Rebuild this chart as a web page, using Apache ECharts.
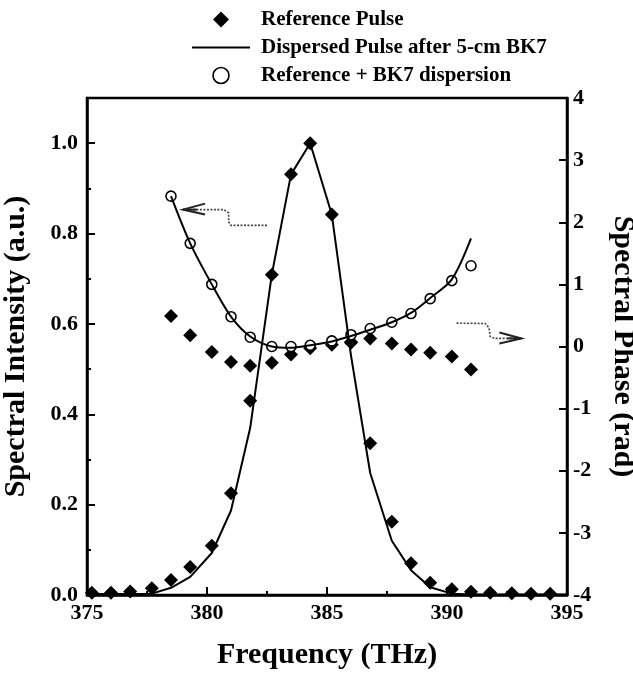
<!DOCTYPE html>
<html>
<head>
<meta charset="utf-8">
<script src="https://cdn.jsdelivr.net/npm/echarts@6/dist/echarts.min.js"></script>
<style>
  html, body { margin: 0; padding: 0; background: #fff; }
  #chart { width: 633px; height: 677px; }
</style>
</head>
<body>
<div id="chart"></div>
<script>
// frequency grid of the measured points (THz)
const freq = [375.2, 376.0, 376.8, 377.7, 378.5, 379.3, 380.2, 381.0, 381.8, 382.7, 383.5, 384.3,
  385.2, 386.0, 386.8, 387.7, 388.5, 389.3, 390.2, 391.0, 391.8, 392.7, 393.5, 394.3];
const refIntensity = [0.005, 0.005, 0.008, 0.015, 0.033, 0.062, 0.109, 0.225, 0.43, 0.709, 0.931, 1.0,
  0.842, 0.56, 0.336, 0.162, 0.07, 0.027, 0.013, 0.007, 0.005, 0.004, 0.003, 0.003];

// phase points only cover the central part of the spectrum
const phaseFreq = [378.5, 379.3, 380.2, 381.0, 381.8, 382.7, 383.5, 384.3, 385.2, 386.0, 386.8, 387.7,
  388.5, 389.3, 390.2, 391.0];
const refPhase = [0.49, 0.18, -0.09, -0.25, -0.31, -0.26, -0.13, -0.03, 0.03, 0.06, 0.13, 0.05,
  -0.05, -0.10, -0.16, -0.37];
const bk7Phase = [2.42, 1.66, 1.0, 0.48, 0.15, 0.0, 0.0, 0.02, 0.09, 0.19, 0.29, 0.39,
  0.53, 0.77, 1.06, 1.30];
const dispPhase = [2.42, 1.66, 1.0, 0.48, 0.16, 0.0, -0.02, 0.02, 0.08, 0.17, 0.27, 0.39,
  0.54, 0.78, 1.08, 1.74];

// dispersed pulse intensity (solid line)
const dispFreq = [375.0, 376.0, 377.0, 377.7, 378.5, 379.3, 380.2, 381.0, 381.8, 382.7, 383.5, 384.3,
  385.2, 386.0, 386.8, 387.7, 388.5, 389.3, 390.2, 391.0, 393.0, 395.0];
const dispIntensity = [0.002, 0.002, 0.002, 0.003, 0.016, 0.04, 0.093, 0.187, 0.37, 0.709, 0.931, 1.0,
  0.842, 0.53, 0.27, 0.12, 0.055, 0.017, 0.003, 0.001, 0.001, 0.001];

// dotted arrows: [freq, value] pairs, last point is the tip
const leftArrow = [[382.5, 0.818], [381.0, 0.818], [380.9, 0.826], [380.9, 0.846], [380.7, 0.853], [379.0, 0.853]];
const rightArrow = [[390.4, 0.376], [391.6, 0.37], [391.75, 0.3], [391.8, 0.16], [392.0, 0.13], [393.1, 0.13]];

const names = ['Reference Pulse', 'Dispersed Pulse after 5-cm BK7', 'Reference + BK7 dispersion'];
const font = "'Liberation Serif', 'Times New Roman', serif";

const zip = (xs, ys) => xs.map((x, i) => [x, ys[i]]);

const chart = echarts.init(document.getElementById('chart'));

const axisBase = {
  axisLine: { lineStyle: { color: '#000', width: 2.5 } },
  axisTick: { inside: true, length: 8, lineStyle: { color: '#000', width: 2 } },
  minorTick: { show: true, splitNumber: 2, length: 4, lineStyle: { color: '#000', width: 2 } },
  splitLine: { show: false },
  axisLabel: { color: '#000', fontFamily: font, fontWeight: 'bold', fontSize: 22 },
  nameTextStyle: { color: '#000', fontFamily: font, fontWeight: 'bold', fontSize: 30 }
};

const option = {
  animation: false,
  backgroundColor: '#fff',
  grid: {
    left: 87, right: 66, top: 98, bottom: 82,
    outerBoundsMode: 'none',
    show: true, borderColor: '#000', borderWidth: 2.5
  },
  legend: {
    orient: 'vertical',
    left: 187,
    top: 4,
    itemWidth: 58,
    itemHeight: 16,
    itemGap: 7,
    symbolKeepAspect: true,
    data: [
      { name: names[0], icon: 'path://M8,0L16,8L8,16L0,8Z', itemStyle: { color: '#000', opacity: 1 } },
      { name: names[1], icon: 'path://M0,0L58,0L58,2.2L0,2.2Z', itemStyle: { color: '#000' } },
      { name: names[2], icon: 'circle', itemStyle: { color: '#fff', borderColor: '#000', borderWidth: 1.6 } }
    ],
    textStyle: { color: '#000', fontFamily: font, fontWeight: 'bold', fontSize: 21, padding: [0, 0, 0, 6] }
  },
  xAxis: {
    ...axisBase,
    type: 'value',
    min: 375,
    max: 395,
    interval: 5,
    axisLabel: { ...axisBase.axisLabel, margin: 7 },
    name: 'Frequency (THz)',
    nameLocation: 'middle',
    nameGap: 45
  },
  yAxis: [
    {
      ...axisBase,
      type: 'value',
      position: 'left',
      min: 0,
      max: 1.1,
      interval: 0.2,
      axisLabel: { ...axisBase.axisLabel, margin: 9, showMaxLabel: false, formatter: v => v.toFixed(1) },
      name: 'Spectral Intensity (a.u.)',
      nameLocation: 'middle',
      nameRotate: 90,
      nameGap: 56
    },
    {
      ...axisBase,
      type: 'value',
      position: 'right',
      min: -4,
      max: 4,
      interval: 1,
      minorTick: { show: false },
      axisLabel: { ...axisBase.axisLabel, margin: 6 },
      name: 'Spectral Phase (rad)',
      nameLocation: 'middle',
      nameRotate: -90,
      nameGap: 41
    }
  ],
  series: [
    {
      name: names[0], type: 'scatter', yAxisIndex: 0, symbol: 'diamond', symbolSize: 14,
      itemStyle: { color: '#000', opacity: 1 }, data: zip(freq, refIntensity)
    },
    {
      name: names[0], type: 'scatter', yAxisIndex: 1, symbol: 'diamond', symbolSize: 14,
      itemStyle: { color: '#000', opacity: 1 }, data: zip(phaseFreq, refPhase)
    },
    {
      name: names[1], type: 'line', yAxisIndex: 0, symbol: 'none',
      lineStyle: { color: '#000', width: 2 }, itemStyle: { color: '#000' },
      data: zip(dispFreq, dispIntensity)
    },
    {
      name: names[1], type: 'line', yAxisIndex: 1, symbol: 'none', smooth: 0.3,
      lineStyle: { color: '#000', width: 2 }, itemStyle: { color: '#000' },
      data: zip(phaseFreq.slice(0, dispPhase.length), dispPhase)
    },
    {
      name: names[2], type: 'scatter', yAxisIndex: 1, symbol: 'circle', symbolSize: 10,
      itemStyle: { color: '#fff', borderColor: '#000', borderWidth: 1.6, opacity: 1 },
      data: zip(phaseFreq, bk7Phase)
    }
  ]
};

chart.setOption(option);

function arrowGraphic(points, yAxisIndex) {
  const px = points.map(p => chart.convertToPixel({ xAxisIndex: 0, yAxisIndex: yAxisIndex }, p));
  const tip = px[px.length - 1];
  const dir = Math.sign(tip[0] - px[px.length - 2][0]);
  return [
    {
      type: 'polyline',
      shape: { points: px.slice(0, -1).concat([[tip[0] - dir * 6, tip[1]]]) },
      style: { stroke: '#444', lineWidth: 1.6, lineDash: [2, 1.5], fill: null }
    },
    {
      type: 'polyline',
      shape: { points: [[tip[0] - dir * 22, tip[1] - 6], tip, [tip[0] - dir * 22, tip[1] + 5]] },
      style: { stroke: '#222', lineWidth: 2, fill: null }
    },
    {
      type: 'line',
      shape: { x1: tip[0] - dir * 14, y1: tip[1], x2: tip[0], y2: tip[1] },
      style: { stroke: '#222', lineWidth: 2 }
    }
  ];
}

chart.setOption({
  graphic: arrowGraphic(leftArrow, 0).concat(arrowGraphic(rightArrow, 1))
});
</script>
</body>
</html>
